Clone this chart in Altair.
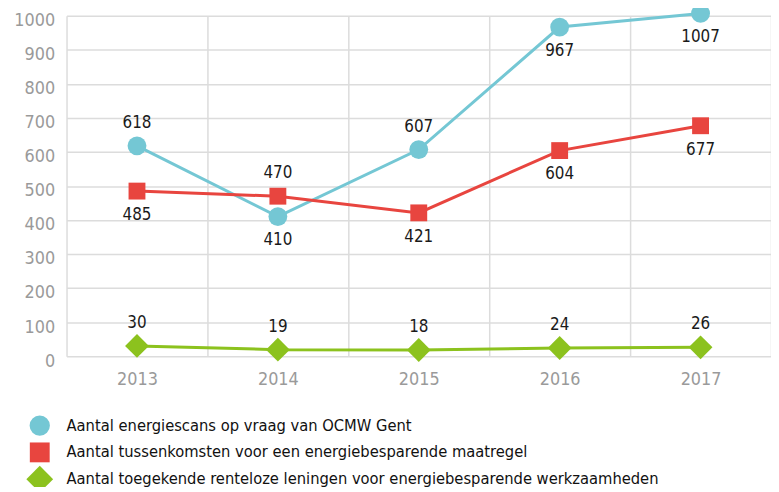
import altair as alt
import pandas as pd

years = ["2013", "2014", "2015", "2016", "2017"]
series_names = [
    "Aantal energiescans op vraag van OCMW Gent",
    "Aantal tussenkomsten voor een energiebesparende maatregel",
    "Aantal toegekende renteloze leningen voor energiebesparende werkzaamheden",
]
scans = [618, 410, 607, 967, 1007]
tussenkomsten = [485, 470, 421, 604, 677]
leningen = [30, 19, 18, 24, 26]
scans_pos = ["above", "below", "above", "below", "below"]
tussen_pos = ["below", "above", "below", "below", "below"]
leningen_pos = ["above", "above", "above", "above", "above"]
y_ticks = [0, 100, 200, 300, 400, 500, 600, 700, 800, 900, 1000]

colors = ["#74c7d4", "#e8453f", "#8cc21e"]
shapes = ["circle", "square", "diamond"]
sizes = [361, 289, 576]
legend_sizes = [420, 400, 729]

rows = []
for name, vals, pos, sz in zip(series_names, [scans, tussenkomsten, leningen],
                               [scans_pos, tussen_pos, leningen_pos], sizes):
    for yr, v, p in zip(years, vals, pos):
        rows.append({"series": name, "year": yr, "value": v, "pos": p, "sz": sz})
df = pd.DataFrame(rows)
legend_df = pd.DataFrame({"series": series_names, "sz": legend_sizes})

FONT = "'DejaVu Sans Condensed'"
GRID = "#dcdcdc"

color_scale = alt.Scale(domain=series_names, range=colors)
shape_scale = alt.Scale(domain=series_names, range=shapes)

x_enc = alt.X(
    "year:O",
    bandPosition=0.5,
    scale=alt.Scale(type="band", paddingInner=0, paddingOuter=0),
    axis=alt.Axis(title=None, tickBand="extent", grid=True, gridColor=GRID,
                  gridWidth=1.5, ticks=False, domain=False, labelAngle=0,
                  labelPadding=15, labelFontSize=18, labelColor="#9a9a9a",
                  labelFont=FONT),
)
y_enc = alt.Y(
    "value:Q",
    scale=alt.Scale(domain=[0, 1000], nice=False),
    axis=alt.Axis(title=None, values=y_ticks, grid=True, gridColor=GRID, format="d",
                  gridWidth=1.5, ticks=False, domain=False, labelPadding=12,
                  labelOffset=5, labelFontSize=18, labelColor="#9a9a9a",
                  labelFont=FONT),
)

base = alt.Chart(df).encode(x=x_enc, y=y_enc)

lines = base.mark_line(strokeWidth=3).encode(
    color=alt.Color("series:N", scale=color_scale, legend=None),
    detail="series:N",
)

points = base.mark_point(filled=True, opacity=1, strokeWidth=0).encode(
    fill=alt.Fill("series:N", scale=color_scale, legend=None),
    shape=alt.Shape("series:N", scale=shape_scale, legend=None),
    size=alt.Size("sz:Q", scale=None),
)

labels_above = base.mark_text(dy=-23, fontSize=17, font=FONT, color="#1a1a1a",
                              baseline="middle").encode(
    text="value:Q"
).transform_filter(alt.datum.pos == "above")

labels_below = base.mark_text(dy=24, fontSize=17, font=FONT, color="#1a1a1a",
                              baseline="middle").encode(
    text="value:Q"
).transform_filter(alt.datum.pos == "below")

main = alt.layer(lines, points, labels_above, labels_below)

# legend below the plot, drawn from the series names
leg_y = alt.Y("series:N", axis=None,
              scale=alt.Scale(type="point", domain=series_names, range=[413, 467],
                              padding=0))
leg_base = alt.Chart(legend_df).encode(y=leg_y)
leg_symbols = leg_base.mark_point(filled=True, opacity=1, strokeWidth=0).encode(
    x=alt.value(-27),
    fill=alt.Fill("series:N", scale=color_scale, legend=None),
    shape=alt.Shape("series:N", scale=shape_scale, legend=None),
    size=alt.Size("sz:Q", scale=None),
)
leg_text = leg_base.mark_text(align="left", baseline="middle", fontSize=16.5,
                              font=FONT, color="#111111").encode(
    x=alt.value(0),
    text="series:N",
)
legend = alt.layer(leg_symbols, leg_text)

chart = alt.layer(main, legend).resolve_scale(y="independent").properties(
    width=710,
    height=343,
    autosize=alt.AutoSizeParams(type="none"),
    padding={"left": 59, "top": 6, "right": 0, "bottom": 130},
    background="white",
).configure_view(stroke=None)

chart.save("out.html", embed_options={"renderer": "svg", "actions": False})
